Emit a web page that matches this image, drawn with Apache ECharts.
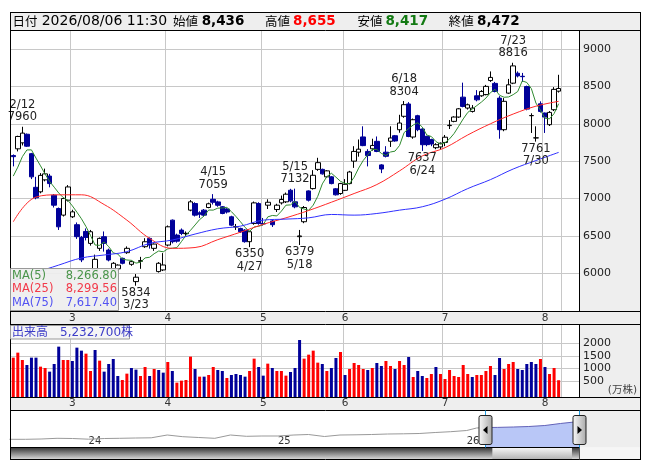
<!DOCTYPE html>
<html><head><meta charset="utf-8">
<script src="https://cdn.jsdelivr.net/npm/echarts@6/dist/echarts.min.js"></script>
<style>html,body{margin:0;padding:0;background:#fff}#c{width:653px;height:470px}</style>
</head><body><div id="c"></div>
<script>
// ---------- data ----------
const dates = [
'2026-02-09','2026-02-10','2026-02-12','2026-02-13','2026-02-16','2026-02-17','2026-02-18','2026-02-19','2026-02-20','2026-02-24','2026-02-25','2026-02-26','2026-02-27',
'2026-03-02','2026-03-03','2026-03-04','2026-03-05','2026-03-06','2026-03-09','2026-03-10','2026-03-11','2026-03-12','2026-03-13','2026-03-16','2026-03-17','2026-03-18','2026-03-19','2026-03-23','2026-03-24','2026-03-25','2026-03-26','2026-03-27','2026-03-30','2026-03-31',
'2026-04-01','2026-04-02','2026-04-03','2026-04-06','2026-04-07','2026-04-08','2026-04-09','2026-04-10','2026-04-13','2026-04-14','2026-04-15','2026-04-16','2026-04-17','2026-04-20','2026-04-21','2026-04-22','2026-04-23','2026-04-24','2026-04-27','2026-04-28','2026-04-30',
'2026-05-01','2026-05-07','2026-05-08','2026-05-11','2026-05-12','2026-05-13','2026-05-14','2026-05-15','2026-05-18','2026-05-19','2026-05-20','2026-05-21','2026-05-22','2026-05-25','2026-05-26','2026-05-27','2026-05-28','2026-05-29',
'2026-06-01','2026-06-02','2026-06-03','2026-06-04','2026-06-05','2026-06-08','2026-06-09','2026-06-10','2026-06-11','2026-06-12','2026-06-15','2026-06-16','2026-06-17','2026-06-18','2026-06-19','2026-06-22','2026-06-23','2026-06-24','2026-06-25','2026-06-26','2026-06-29','2026-06-30',
'2026-07-01','2026-07-02','2026-07-03','2026-07-06','2026-07-07','2026-07-08','2026-07-09','2026-07-10','2026-07-13','2026-07-14','2026-07-15','2026-07-16','2026-07-17','2026-07-21','2026-07-22','2026-07-23','2026-07-24','2026-07-27','2026-07-28','2026-07-29','2026-07-30','2026-07-31',
'2026-08-03','2026-08-04','2026-08-05','2026-08-06'];
const opens = [7575,7665,7745,7860,7600,7150,7090,7250,7300,7044,6867,6778,6978,6756,6650,6480,6560,6400,6045,6334,6489,6311,6045,6060,6200,6276,6120,5889,6160,6356,6467,6334,6023,6045,6378,6711,6511,6578,6530,6845,6933,6809,6845,6880,6990,6955,6890,6860,6756,6620,6600,6578,6423,6667,6933,6665,6911,6700,6853,6942,6956,7111,6956,6490,6690,7102,7133,7390,7390,7290,7290,7130,7067,7110,7200,7500,7620,7824,7630,7665,7765,7450,7620,7766,7840,7920,8100,8265,7823,8108,7930,7832,7788,7680,7690,7750,7975,8032,8090,8356,8210,8165,8374,8374,8390,8578,8540,8343,7921,8410,8543,8676,8635,8498,8108,7810,8267,8143,7988,8188,8436];
const highs = [7590,7840,7960,7870,7610,7290,7340,7400,7330,7060,6880,7010,7180,6850,6680,6500,6600,6580,6250,6480,6560,6330,6150,6120,6210,6360,6170,5990,6220,6470,6480,6400,6150,6270,6640,6720,6530,6600,6560,6980,6950,6830,6860,6945,7059,6970,6900,6870,6770,6660,6610,6590,6570,6960,6950,6740,6990,6720,6930,7040,7080,7130,7132,6580,6900,7110,7380,7545,7400,7380,7300,7140,7210,7260,7370,7700,7790,7966,7660,7800,7830,7460,7700,7966,7850,8120,8304,8290,8070,8120,7940,7840,7800,7740,7750,7850,8050,8100,8210,8550,8270,8250,8450,8450,8520,8700,8560,8370,8343,8600,8816,8700,8680,8510,8140,7966,8300,8150,8170,8490,8655];
const lows = [7430,7630,7710,7690,7260,6990,7070,7230,7150,6880,6580,6760,6960,6740,6460,6150,6440,6370,6020,6300,6290,6160,6030,6030,6120,6260,6100,5834,6060,6340,6330,6300,6010,6030,6360,6400,6410,6510,6500,6830,6760,6740,6760,6870,6920,6890,6790,6800,6630,6580,6540,6410,6350,6650,6650,6640,6860,6620,6820,6920,6940,6950,6870,6379,6670,6960,7120,7370,7320,7280,7190,7040,7050,7100,7190,7410,7560,7700,7430,7640,7620,7340,7550,7690,7760,7880,8080,7820,7800,7900,7637,7700,7700,7660,7650,7700,7930,8020,8080,8220,8190,8150,8300,8360,8380,8560,8420,7800,7900,8400,8530,8620,8560,8180,7877,7761,8150,7877,7970,8170,8417];
const closes = [7560,7830,7875,7700,7290,7010,7310,7330,7200,6911,6622,7000,7155,6822,6490,6180,6480,6556,6187,6467,6400,6178,6134,6110,6134,6334,6156,5948,6170,6422,6378,6391,6134,6111,6622,6423,6430,6533,6535,6956,6778,6790,6778,6930,6950,6910,6800,6820,6644,6625,6556,6423,6556,6942,6667,6660,6950,6650,6911,6987,7058,6969,6889,6500,6880,6978,7311,7480,7330,7370,7200,7050,7200,7190,7355,7630,7660,7708,7575,7710,7630,7395,7565,7810,7770,8010,8255,7830,8054,7921,7720,7721,7730,7720,7740,7820,7980,8090,8200,8232,8254,8210,8320,8432,8500,8620,8432,7921,8300,8521,8774,8640,8630,8196,8110,7812,8165,8090,8152,8460,8472];
// volume in 万株
const volumes = [1426,1626,1333,1133,1426,1426,1066,1013,866,1173,1866,1333,1333,1293,1826,1706,1586,893,1733,1306,866,1173,1373,693,533,786,1013,946,693,1053,693,973,933,826,1253,893,426,506,533,1466,973,666,666,733,1053,933,893,613,733,773,733,666,893,1386,1053,706,1186,1013,893,893,706,853,1013,2133,1386,1546,1706,1226,1173,893,1013,1413,1653,733,973,1213,1133,973,933,1013,1213,1093,1293,1093,973,1293,1133,1453,653,893,693,613,773,1053,773,573,933,693,653,1133,773,653,733,733,893,1093,733,1413,973,1173,1253,973,933,1173,1253,1173,1373,1053,773,1013,523.27];
// MA values (first 4 MA5 points; MA25 / MA75 every 5th session)
const ma5Head = [7300,7420,7560,7650];
const ma25Samples = [6689,7020,7050,7050,6920,6711,6467,6334,6345,6450,6550,6655,6742,6840,6951,7067,7187,7370,7570,7680,7850,8000,8130,8235,8300];
const ma75Samples = [5900,6010,6110,6205,6245,6290,6400,6445,6525,6595,6631,6711,6725,6742,6787,6778,6800,6845,6890,6991,7133,7253,7395,7508,7617];
const maLegendNames = ['MA(5)','MA(25)','MA(75)'];
const maLegendValues = ['8,266.80','8,299.56','7,617.40'];
const priceTicks = [6000,6500,7000,7500,8000,8500,9000];
const volumeTicks = [500,1000,1500,2000];
const annotations = [['2026-02-12','high'],['2026-03-23','low'],['2026-04-15','high'],['2026-04-27','low'],['2026-05-15','high'],['2026-05-18','low'],['2026-06-18','high'],['2026-06-24','low'],['2026-07-23','high'],['2026-07-30','low']];
// navigator (long history, arbitrary units)
const navHistDates = ['2023-08-01','2023-09-01','2023-10-01','2023-11-01','2023-12-01','2024-01-01','2024-02-01','2024-03-01','2024-04-01','2024-05-01','2024-06-01','2024-07-01','2024-08-01','2024-09-01','2024-10-01','2024-11-01','2024-12-01','2025-01-01','2025-02-01','2025-03-01','2025-04-01','2025-05-01','2025-06-01','2025-07-01','2025-08-01','2025-09-01','2025-10-01','2025-11-01','2025-12-01','2026-01-01','2026-01-20','2026-02-06'];
const navHistValues = [3480,3480,3600,3880,3800,3520,3800,3880,4000,4080,5200,4520,4200,3880,5200,4680,4800,4800,5200,5400,4600,5200,5280,5400,5600,5680,5800,6200,6520,7000,8000,8200];
const navWindowDates = ['2026-02-06','2026-03-01','2026-04-01','2026-05-01','2026-06-01','2026-07-01','2026-08-06'];
const navWindowValues = [8200,8240,8400,8600,9000,9800,10600];
const headerTime = '11:30';

// ---------- derived ----------
const N = dates.length;
const monthStart = new Set();
dates.forEach((d,i)=>{ if(i>0 && d.slice(5,7)!==dates[i-1].slice(5,7)) monthStart.add(i); });
const ma5 = closes.map((c,i)=> i<4 ? ma5Head[i] : +( (closes[i]+closes[i-1]+closes[i-2]+closes[i-3]+closes[i-4])/5 ).toFixed(2));
const ma25 = dates.map((d,i)=> i%5===0 ? ma25Samples[i/5] : null);
const ma75 = dates.map((d,i)=> i%5===0 ? ma75Samples[i/5] : null);
const RED='#ff0000', NAVY='#000099';
const volData = volumes.map((v,i)=>({value:v, itemStyle:{color: (i===0 || closes[i]>=closes[i-1]) ? RED : NAVY}}));

const F = "'DejaVu Sans','Noto Sans CJK JP',sans-serif";
const FJ = "'Noto Sans CJK JP',sans-serif";
const fmt = n => n.toLocaleString('en-US');

const mpData = annotations.map(([d,kind])=>{
  const i = dates.indexOf(d);
  const md = (+d.slice(5,7))+'/'+(+d.slice(8,10));
  const hi = kind==='high';
  const v = hi ? highs[i] : lows[i];
  return {coord:[d,v], value:v, label:{show:true, position: hi?'top':'bottom', distance: hi?3:1,
    formatter: hi ? md+'\n'+v : v+'\n'+md, color:'#222', fontSize:11.5, lineHeight:12.5, fontFamily:F}};
});

const chart = echarts.init(document.getElementById('c'), null, {renderer:'canvas', width:653, height:470});
const g = (o)=>Object.assign({outerBoundsMode:'none', containLabel:false}, o);
const monthLabel = v => String(+v.slice(5,7));

const option = {
  animation:false,
  textStyle:{fontFamily:F},
  grid:[
    g({left:10, top:30.3, width:570, height:280.4}),
    g({left:11, top:30.3, width:549.9, height:280.4}),
    g({left:10, top:325, width:570, height:68.3}),
    g({left:11, top:325, width:549.9, height:72.3}),
    g({left:10, top:411, width:570, height:37})
  ],
  xAxis:[
    {type:'value', gridIndex:0, show:false, min:0, max:1},
    {type:'category', gridIndex:1, data:dates, boundaryGap:true, axisLine:{show:false}, axisTick:{show:false},
      axisLabel:{interval:(i)=>monthStart.has(i), formatter:monthLabel, fontSize:10.5, color:'#333', margin:2.5, fontFamily:F},
      splitLine:{show:true, interval:(i)=>monthStart.has(i), lineStyle:{color:'#c8c8c8', width:1}}},
    {type:'value', gridIndex:2, show:false, min:0, max:1},
    {type:'category', gridIndex:3, data:dates, boundaryGap:true, axisLine:{show:false}, axisTick:{show:false},
      axisLabel:{interval:(i)=>monthStart.has(i), formatter:monthLabel, fontSize:10.5, color:'#333', margin:1, fontFamily:F},
      splitLine:{show:true, interval:(i)=>monthStart.has(i), lineStyle:{color:'#c8c8c8', width:1}}},
    {type:'time', gridIndex:4, min:Date.UTC(2023,7,2), max:Date.UTC(2026,7,8), axisLine:{show:false}, axisTick:{show:false}, splitLine:{show:false},
      axisLabel:{inside:true, align:'left', margin:2, fontSize:10, color:'#333', fontFamily:F,
        formatter:{year:'{yy}', month:'', day:'', hour:'', minute:'', second:'', millisecond:'', none:''}}}
  ],
  yAxis:[
    {type:'value', gridIndex:0, min:5500, max:9250, interval:500, position:'right', axisLine:{show:false}, axisTick:{show:false},
      axisLabel:{formatter:v=>priceTicks.includes(v)?String(v):'', margin:3, fontSize:11, color:'#222', fontFamily:F, align:'left'},
      splitLine:{show:true, showMinLine:false, showMaxLine:false, lineStyle:{color:'#c8c8c8', width:1}}},
    {type:'value', gridIndex:1, min:5500, max:9250, show:false, splitLine:{show:false}},
    {type:'value', gridIndex:2, min:0, max:2732, interval:500, position:'right', axisLine:{show:false}, axisTick:{show:false},
      axisLabel:{formatter:v=>volumeTicks.includes(v)?String(v):'', margin:3, fontSize:11, color:'#222', fontFamily:F, align:'left'},
      splitLine:{show:true, showMinLine:false, showMaxLine:false, lineStyle:{color:['#c8c8c8','#c8c8c8','#c8c8c8','#c8c8c8','rgba(0,0,0,0)'], width:1}}},
    {type:'value', gridIndex:3, min:-160, max:2732, startValue:-160, show:false, splitLine:{show:false}},
    {type:'value', gridIndex:4, min:0, max:14800, show:false, splitLine:{show:false}}
  ],
  series:[
    {type:'candlestick', xAxisIndex:1, yAxisIndex:1, barWidth:5, z:2,
      data: dates.map((d,i)=>[opens[i], closes[i], lows[i], highs[i]]),
      itemStyle:{color:'#ffffff', color0:NAVY, borderColor:'#000000', borderColor0:NAVY, borderColorDoji:'#000000', borderWidth:1},
      markPoint:{symbol:'circle', symbolSize:0, silent:true, animation:false, data:mpData}},
    {type:'line', name:'MA5', xAxisIndex:1, yAxisIndex:1, data:ma5, symbol:'none', z:3, lineStyle:{color:'#2f8a2f', width:1}, itemStyle:{color:'#2f8a2f'}},
    {type:'line', name:'MA25', xAxisIndex:1, yAxisIndex:1, data:ma25, connectNulls:true, smooth:0.4, symbol:'none', z:3, lineStyle:{color:'#ff2828', width:1}, itemStyle:{color:'#ff2828'}},
    {type:'line', name:'MA75', xAxisIndex:1, yAxisIndex:1, data:ma75, connectNulls:true, smooth:0.4, symbol:'none', z:3, lineStyle:{color:'#3030ff', width:1}, itemStyle:{color:'#3030ff'}},
    {type:'bar', xAxisIndex:3, yAxisIndex:3, data:volData, barWidth:3},
    {type:'line', xAxisIndex:4, yAxisIndex:4, data:navHistDates.map((d,i)=>[d,navHistValues[i]]), symbol:'none', lineStyle:{color:'#999999', width:1}},
    {type:'line', xAxisIndex:4, yAxisIndex:4, data:navWindowDates.map((d,i)=>[d,navWindowValues[i]]), symbol:'none', lineStyle:{color:'#6262b8', width:1}, areaStyle:{color:'#b9c7f7', opacity:1}}
  ]
};
chart.setOption(option);

// ---------- decorations ----------
const xL = chart.convertToPixel({xAxisIndex:4}, navWindowDates[0]);
const xR = chart.convertToPixel({xAxisIndex:4}, navWindowDates[navWindowDates.length-1]);
const els = [];
const rect = (x,y,w,h,fill,z,extra)=>els.push(Object.assign({type:'rect', z:z, silent:true, shape:{x,y,width:w,height:h}, style:{fill}}, extra||{}));
const hline = (x1,x2,y,stroke,z)=>els.push({type:'line', z:z||50, silent:true, shape:{x1,y1:y,x2,y2:y}, style:{stroke:stroke||'#000', lineWidth:1}});
const vline = (x,y1,y2,stroke,z)=>els.push({type:'line', z:z||50, silent:true, shape:{x1:x,y1,x2:x,y2}, style:{stroke:stroke||'#000', lineWidth:1}});
const text = (x,y,t,font,fill,align,z)=>els.push({type:'text', z:z||60, silent:true, x, y, style:{text:t, font, fill:fill||'#000', align:align||'left', verticalAlign:'middle'}});
const GRAY='#eeeeee';
// gray panels
rect(10,12,631,18.5,GRAY,-5);
rect(580,30,61,282,GRAY,-5);
rect(10,311.5,631,13,GRAY,-5);
rect(580,324.5,61,73,GRAY,-5);
rect(10,397.5,631,13,GRAY,-5);
rect(580,410.5,61,37,GRAY,-5);
rect(580,447.5,61,12,'#f6f6f6',-5);
// scrollbar
rect(10.5,448,569,11,{type:'linear',x:0,y:0,x2:0,y2:1,colorStops:[{offset:0,color:'#3a3a3a'},{offset:0.5,color:'#8a8a8a'},{offset:1,color:'#d6d6d6'}]},40);
rect(xL+7,448,xR-xL-14,11,{type:'linear',x:0,y:0,x2:0,y2:1,colorStops:[{offset:0,color:'#f4f4f4'},{offset:1,color:'#b4b4b4'}]},41);
// frame lines
hline(10,641,12.5); hline(10,641,30.5); hline(10,641,311.5); hline(10,641,324.5);
hline(10,641,397.5); hline(10,641,410.5); hline(10,580,447.5); hline(10,641,459.5);
vline(10.5,12,460); vline(640.5,12,460);
vline(579.5,30,311.5); vline(579.5,324.5,397.5); vline(579.5,447.5,459.5,'#555');
// selection edges + handles
vline(Math.round(xL)+0.5,410.5,447.5,'#1e9be0',55); vline(Math.round(xR)+0.5,410.5,447.5,'#1e9be0',55);
[[xL,-1],[xR,1]].forEach(([cx,dir])=>{
  cx = Math.round(cx)+0.5;
  els.push({type:'rect', z:70, silent:true, shape:{x:cx-6.5, y:415.5, width:13, height:29, r:2},
    style:{fill:{type:'linear',x:0,y:0,x2:1,y2:0,colorStops:[{offset:0,color:'#fbfbfb'},{offset:1,color:'#a8a8a8'}]}, stroke:'#222', lineWidth:1}});
  const p = dir<0 ? [[cx+2,426],[cx+2,434],[cx-2.5,430]] : [[cx-2,426],[cx-2,434],[cx+2.5,430]];
  els.push({type:'polygon', z:71, silent:true, shape:{points:p}, style:{fill:'#000'}});
});
// header
const last = N-1;
text(12.5,21,'日付','12.5px '+FJ);
text(41.7,21,dates[last].replace(/-/g,'/')+' '+headerTime,'14px '+F);
text(173,21,'始値','12.5px '+FJ);  text(201.7,21,fmt(opens[last]),'bold 13.5px '+F,'#000');
text(265,21,'高値','12.5px '+FJ);  text(293,21,fmt(highs[last]),'bold 13.5px '+F,'#ff0000');
text(357.5,21,'安値','12.5px '+FJ); text(385.4,21,fmt(lows[last]),'bold 13.5px '+F,'#137a13');
text(448.7,21,'終値','12.5px '+FJ); text(477,21,fmt(closes[last]),'bold 13.5px '+F,'#000');
// MA legend box
els.push({type:'rect', z:80, silent:true, shape:{x:10.5,y:268.5,width:108,height:42}, style:{fill:'rgba(238,238,238,0.93)', stroke:'#999', lineWidth:1}});
const maColors = ['#4a944a','#f23a4a','#5252f2'];
[276,289.5,303].forEach((y,k)=>{
  text(12,y,maLegendNames[k],'11.5px '+F,maColors[k],'left',81);
  text(117,y,maLegendValues[k],'11.5px '+F,maColors[k],'right',81);
});
// volume label box
els.push({type:'rect', z:80, silent:true, shape:{x:10.5,y:325.5,width:119,height:13.5}, style:{fill:'rgba(244,244,244,0.95)', stroke:'#999', lineWidth:1}});
text(12,332.5,'出来高　'+fmt(Math.round(volumes[last]*10000))+'株','12px '+F,'#3c3cc8','left',81);
text(637,390,'(万株)','10.5px '+F,'#444','right',60);

chart.setOption({graphic:{elements:els}});
</script>
</body></html>
